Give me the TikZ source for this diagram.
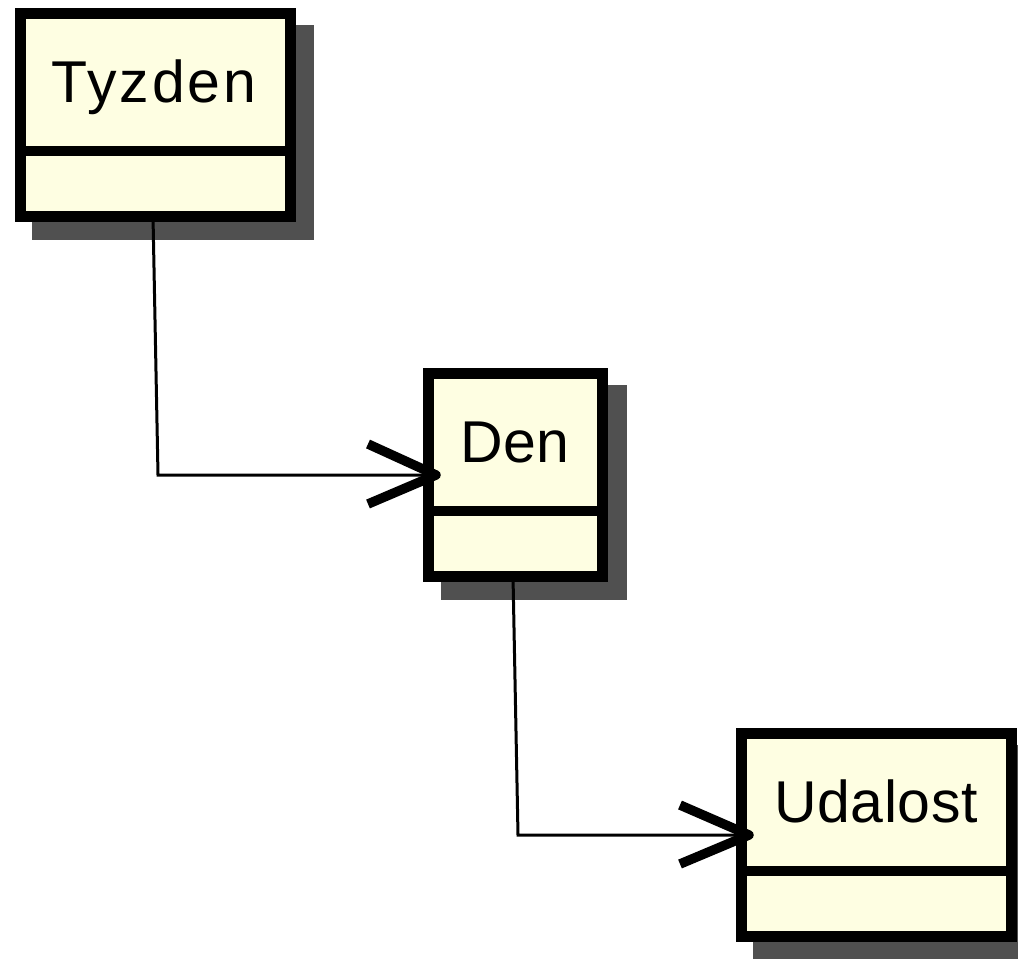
\documentclass[tikz,border=0pt]{standalone}
\usepackage{fontspec}
\setmainfont{Liberation Sans}
\usetikzlibrary{backgrounds}
\definecolor{classfill}{HTML}{FEFEE2}
\definecolor{shadowc}{HTML}{505050}
\tikzset{
  classbox/.style={draw=black, fill=classfill, line width=11pt, rectangle, inner sep=0pt, outer sep=0pt},
  divider/.style={draw=black, line width=10pt},
  classlabel/.style={anchor=base, inner sep=0pt, font=\fontsize{59}{70}\selectfont},
  conn/.style={draw=black, line width=3pt},
  barb/.style={draw=black, line width=9.5pt, line join=round, line cap=butt},
}
\begin{document}
\begin{tikzpicture}[x=1pt, y=-1pt]
\useasboundingbox (0,0) rectangle (1018,959);
% boxes
\node[classbox, minimum width=270pt, minimum height=203pt] (t) at (155,114.5) {};
\node[classbox, minimum width=174pt, minimum height=203pt] (d) at (515.5,474.5) {};
\node[classbox, minimum width=270pt, minimum height=203pt] (u) at (876,834.5) {};
% dividers
\foreach \b in {t,d,u}{
  \draw[divider] ([yshift=-138pt]\b.north west) -- ([yshift=-138pt]\b.north east);
}
% labels
\node[classlabel] (tl) at (154,102) {\addfontfeature{LetterSpace=5}Tyzden};
\node[classlabel] (dl) at (515,462) {Den};
\node[classlabel] (ul) at (876,822) {\addfontfeature{LetterSpace=1}Udalost};
% shadows and background
\begin{scope}[on background layer]
  \fill[white] (0,0) rectangle (1018,959);
  \foreach \b in {t,d,u}{
    \fill[shadowc] ([shift={(12pt,-12pt)}]\b.north west) rectangle ([shift={(24pt,-24pt)}]\b.south east);
  }
\end{scope}
% connectors
\coordinate (c1) at (158,475);
\coordinate (tip1) at (436,475);
\coordinate (c2) at (518,835);
\coordinate (tip2) at (749,835);
\draw[conn] ([xshift=-2pt]t.south) -- (c1) -- (tip1);
\draw[barb] ([shift={(-68pt,31pt)}]tip1) -- (tip1) -- ([shift={(-68pt,-29pt)}]tip1);
\draw[conn] ([xshift=-2.5pt]d.south) -- (c2) -- (tip2);
\draw[barb] ([shift={(-69pt,30pt)}]tip2) -- (tip2) -- ([shift={(-69pt,-29pt)}]tip2);
\end{tikzpicture}
\end{document}
